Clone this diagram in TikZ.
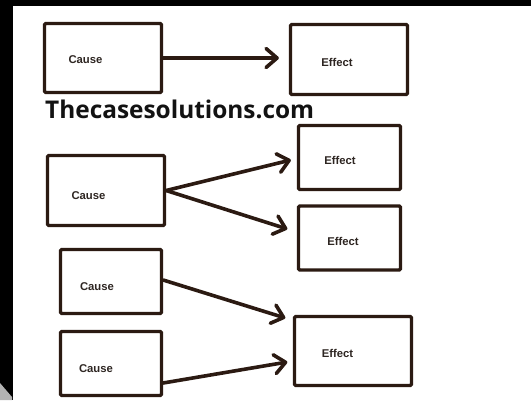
\documentclass[tikz,border=0pt]{standalone}
\usepackage{fontspec}
\setmainfont{Liberation Sans}
\newfontfamily\wmfont{Open Sans}
\usetikzlibrary{arrows.meta,calc}
\definecolor{ink}{HTML}{2B1A12}
\definecolor{lbl}{HTML}{2E2622}
\begin{document}
\begin{tikzpicture}[x=1pt,y=-1pt,
  box/.style={draw=ink,line width=3.3pt,rounded corners=1.2pt,rectangle,inner sep=0pt},
  lab/.style={font=\fontsize{11.3}{13}\selectfont\bfseries,text=lbl,inner sep=0pt},
  conn/.style={draw=ink,line width=3.6pt,line cap=round,-{Straight Barb[length=11pt,width=19pt,line join=round,line cap=round]}}]
\useasboundingbox (0,0) rectangle (531,400);
\fill[black] (0,0) rectangle (531,400);
\fill[white] (13,6) rectangle (531,400);
\fill[black!30] (0,383) -- (12,397) -- (12,400) -- (0,400) -- cycle;
% boxes
\node[box,minimum width=117pt,minimum height=69pt] (c1) at (103,58) {};
\node[box,minimum width=117pt,minimum height=70pt] (e1) at (349,59.5) {};
\node[box,minimum width=117pt,minimum height=70pt] (c2) at (106,190.5) {};
\node[box,minimum width=102pt,minimum height=64pt] (e2a) at (349.5,157.5) {};
\node[box,minimum width=102pt,minimum height=64pt] (e2b) at (349.5,238) {};
\node[box,minimum width=101pt,minimum height=64pt] (c3) at (111,281.5) {};
\node[box,minimum width=101pt,minimum height=64pt] (c4) at (111,363.5) {};
\node[box,minimum width=117pt,minimum height=69pt] (e3) at (353,351) {};
% labels
\node[lab] (lc1) at (85.5,60) {Cause};
\node[lab] (le1) at (337,62) {Effect};
\node[lab] (lc2) at (88.5,196) {Cause};
\node[lab] (le2a) at (340,160) {Effect};
\node[lab] (le2b) at (343,241) {Effect};
\node[lab] (lc3) at (97,287) {Cause};
\node[lab] (lc4) at (96,369) {Cause};
\node[lab] (le3) at (337.5,353) {Effect};
% watermark
\node[font=\wmfont\fontsize{24.4}{27}\selectfont\bfseries,text=black!93,anchor=base west,inner sep=0pt] (wm) at (45,118.5) {Thecasesolutions.com};
% connectors
\draw[conn] (c1.east) -- ($(e1.west)+(-10,-1.5)$);
\draw[conn] (c2.east) -- ($(e2a.west)+(-6,2.5)$);
\draw[conn] (c2.east) -- ($(e2b.west)+(-9.5,-9)$);
\draw[conn] ($(c3.east)+(0,-1.5)$) -- ($(e3.west)+(-7.5,-33)$);
\draw[conn] ($(c4.east)+(0,19.5)$) -- ($(e3.west)+(-5.5,11)$);
\end{tikzpicture}
\end{document}
